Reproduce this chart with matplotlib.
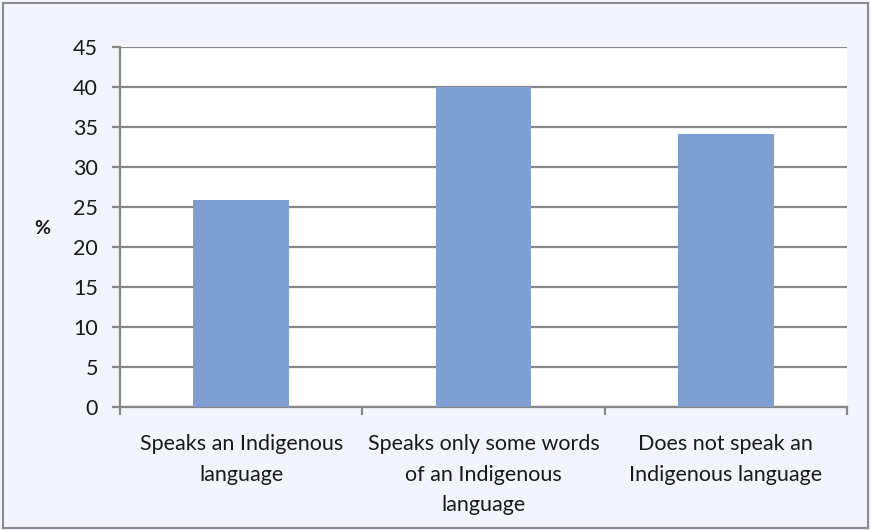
import matplotlib
matplotlib.use("Agg")
import matplotlib.pyplot as plt
from matplotlib.patches import Rectangle

categories = ["Speaks an Indigenous\nlanguage",
              "Speaks only some words\nof an Indigenous\nlanguage",
              "Does not speak an\nIndigenous language"]
values = [25.9, 40.0, 34.1]
yticks = [0, 5, 10, 15, 20, 25, 30, 35, 40, 45]

plt.rcParams['font.family'] = ['Lato', 'DejaVu Sans']
bg = '#f1f4fa'
grid_c = '#878787'
bar_c = '#7f9fd3'

fig = plt.figure(figsize=(8.71, 5.30), dpi=100, facecolor=bg)
fig.patches.append(Rectangle((0.004, 0.004), 0.992, 0.99, transform=fig.transFigure,
                             fill=False, edgecolor='#8a8a8a', linewidth=1.5))
ax = fig.add_axes([0.1378, 0.232, 0.9725 - 0.1378, 0.9113 - 0.232])
ax.set_facecolor('white')

x = list(range(len(categories)))
ax.bar(x, values, width=0.395, color=bar_c, zorder=3)
ax.set_xlim(-0.5, 2.5)
ax.set_ylim(0, 45)
ax.set_yticks(yticks)
ax.yaxis.grid(True, color=grid_c, linewidth=1.6, zorder=1)
ax.set_axisbelow(True)
for s in ['top', 'right']:
    ax.spines[s].set_visible(False)
for s in ['left', 'bottom']:
    ax.spines[s].set_color(grid_c)
    ax.spines[s].set_linewidth(1.6)

ax.set_xticks([-0.5, 0.5, 1.5, 2.5])
ax.set_xticklabels([])
ax.set_xticks(x, minor=True)
ax.set_xticklabels(categories, minor=True, fontsize=15.5, color='#1a1a1a', linespacing=1.65)
ax.tick_params(axis='x', which='minor', length=0, pad=19.5)
ax.tick_params(axis='x', which='major', length=6, width=1.6, color=grid_c)
ax.tick_params(axis='y', length=6, width=1.6, color=grid_c, labelsize=15.5, labelcolor='#1a1a1a', pad=10)

fig.text(42 / 871, 1 - 229 / 530, '%', fontsize=14, fontweight='bold', ha='center', va='center', color='#1a1a1a')

fig.savefig('out.png', dpi=100, facecolor=bg)
